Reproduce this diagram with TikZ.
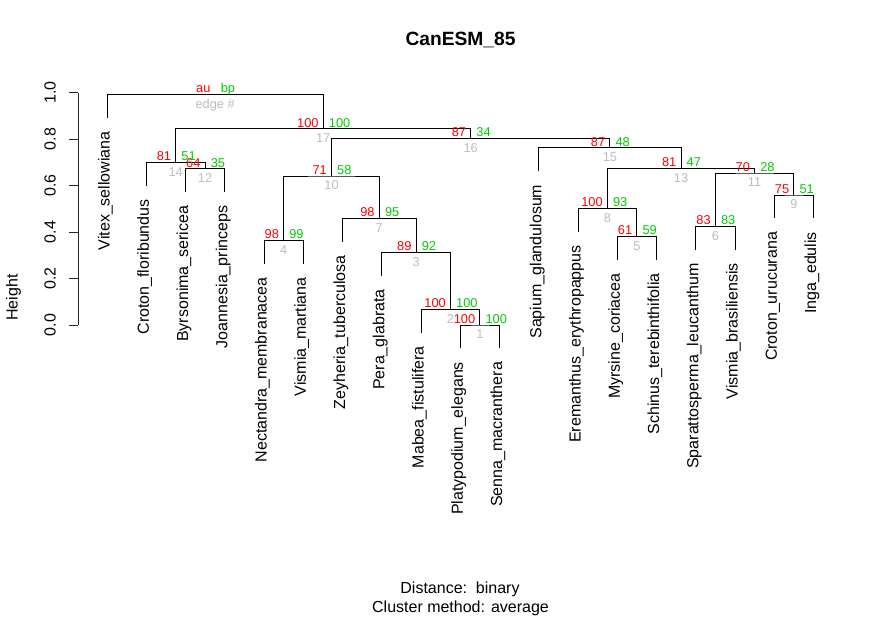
\documentclass[tikz,border=0pt]{standalone}
\usepackage{fontspec}
\setmainfont{Liberation Sans}
\definecolor{aured}{HTML}{FF0000}
\definecolor{bpgreen}{HTML}{00CD00}
\definecolor{edgegray}{HTML}{BEBEBE}
\tikzset{
  tree/.style={draw=black, line width=0.9pt},
  axisline/.style={draw=black!85, line width=0.9pt},
  leaflab/.style={rotate=90, anchor=mid east, inner sep=0pt, font=\fontsize{16}{19}\selectfont},
  ticklab/.style={rotate=90, anchor=base, inner sep=0pt, font=\fontsize{16}{19}\selectfont},
  aulab/.style={anchor=base east, inner sep=0pt, text=aured, font=\fontsize{12.8}{15}\selectfont},
  bplab/.style={anchor=base west, inner sep=0pt, text=bpgreen, font=\fontsize{12.8}{15}\selectfont},
  edlab/.style={anchor=base, inner sep=0pt, text=edgegray, font=\fontsize{12.8}{15}\selectfont},
}
\newcommand\pvlab[4]{%
  \node[aulab] (#1au) at ([shift={(-4.5,-1.5)}]#1) {#2};
  \node[bplab] (#1bp) at ([shift={(5.5,-1.5)}]#1) {#3};
  \node[edlab] (#1ed) at ([shift={(0,13.8)}]#1) {#4};}
\newcommand\leaflabel[2]{%
  \node[leaflab] (T#1) at ([shift={(0,13.5)}]L#1) {#2};}
\begin{document}
\begin{tikzpicture}[x=1pt,y=-1pt]
\useasboundingbox (0,0) rectangle (883,618);
\fill[white] (0,0) rectangle (883,618);
% leaf ends
\coordinate (L1) at (107,117.6);
\coordinate (L2) at (146.25,185.6);
\coordinate (L3) at (185.5,192);
\coordinate (L4) at (224.75,192);
\coordinate (L5) at (264,263.6);
\coordinate (L6) at (303.25,263.6);
\coordinate (L7) at (342.5,241.6);
\coordinate (L8) at (381.75,275.6);
\coordinate (L9) at (421,332.6);
\coordinate (L10) at (460.25,348.3);
\coordinate (L11) at (499.5,348.3);
\coordinate (L12) at (538.75,171);
\coordinate (L13) at (578,231.6);
\coordinate (L14) at (617.25,259.6);
\coordinate (L15) at (656.5,259.6);
\coordinate (L16) at (695.75,249.6);
\coordinate (L17) at (735,249.6);
\coordinate (L18) at (774.25,218.3);
\coordinate (L19) at (813.5,218.3);
% merge points
\coordinate (n1) at (479.875,325);
\coordinate (n2) at (450.44,309.3);
\coordinate (n3) at (416.1,252.3);
\coordinate (n4) at (283.6,240.3);
\coordinate (n5) at (636.9,236.3);
\coordinate (n6) at (715.4,226.3);
\coordinate (n7) at (379.3,218.3);
\coordinate (n8) at (607.4,208.3);
\coordinate (n9) at (793.9,195);
\coordinate (n10) at (331.5,176);
\coordinate (n11) at (754.6,173);
\coordinate (n12) at (205.1,168.7);
\coordinate (n13) at (681,168.3);
\coordinate (n14) at (175.7,162.3);
\coordinate (n15) at (609.9,147.7);
\coordinate (n16) at (470.7,138.3);
\coordinate (n17) at (323.2,128.7);
\coordinate (root) at (215.1,94.3);
% tree
\draw[tree] (L10) |- (n1) -| (L11);
\draw[tree] (L9) |- (n2) -| (n1);
\draw[tree] (L8) |- (n3) -| (n2);
\draw[tree] (L5) |- (n4) -| (L6);
\draw[tree] (L14) |- (n5) -| (L15);
\draw[tree] (L16) |- (n6) -| (L17);
\draw[tree] (L7) |- (n7) -| (n3);
\draw[tree] (L13) |- (n8) -| (n5);
\draw[tree] (L18) |- (n9) -| (L19);
\draw[tree] (n4) |- (n10) -| (n7);
\draw[tree] (n6) |- (n11) -| (n9);
\draw[tree] (L3) |- (n12) -| (L4);
\draw[tree] (n8) |- (n13) -| (n11);
\draw[tree] (L2) |- (n14) -| (n12);
\draw[tree] (L12) |- (n15) -| (n13);
\draw[tree] (n10) |- (n16) -| (n15);
\draw[tree] (n14) |- (n17) -| (n16);
\draw[tree] (L1) |- (root) -| (n17);
% leaf labels
\leaflabel{1}{Vitex\_sellowiana}
\leaflabel{2}{Croton\_floribundus}
\leaflabel{3}{Byrsonima\_sericea}
\leaflabel{4}{Joannesia\_princeps}
\leaflabel{5}{Nectandra\_membranacea}
\leaflabel{6}{Vismia\_martiana}
\leaflabel{7}{Zeyheria\_tuberculosa}
\leaflabel{8}{Pera\_glabrata}
\leaflabel{9}{Mabea\_fistulifera}
\leaflabel{10}{Platypodium\_elegans}
\leaflabel{11}{Senna\_macranthera}
\leaflabel{12}{Sapium\_glandulosum}
\leaflabel{13}{Eremanthus\_erythropappus}
\leaflabel{14}{Myrsine\_coriacea}
\leaflabel{15}{Schinus\_terebinthifolia}
\leaflabel{16}{Sparattosperma\_leucanthum}
\leaflabel{17}{Vismia\_brasiliensis}
\leaflabel{18}{Croton\_urucurana}
\leaflabel{19}{Inga\_edulis}
% p-values
\pvlab{n1}{100}{100}{1}
\pvlab{n2}{100}{100}{2}
\pvlab{n3}{89}{92}{3}
\pvlab{n4}{98}{99}{4}
\pvlab{n5}{61}{59}{5}
\pvlab{n6}{83}{83}{6}
\pvlab{n7}{98}{95}{7}
\pvlab{n8}{100}{93}{8}
\pvlab{n9}{75}{51}{9}
\pvlab{n10}{71}{58}{10}
\pvlab{n11}{70}{28}{11}
\pvlab{n12}{64}{35}{12}
\pvlab{n13}{81}{47}{13}
\pvlab{n14}{81}{51}{14}
\pvlab{n15}{87}{48}{15}
\pvlab{n16}{87}{34}{16}
\pvlab{n17}{100}{100}{17}
\pvlab{root}{au}{bp}{edge \#}
% axis
\coordinate (ax0) at (78,325);
\coordinate (ax1) at (78,92.7);
\draw[axisline] (ax0) -- (ax1);
\foreach \v/\t in {0/0.0,1/0.2,2/0.4,3/0.6,4/0.8,5/1.0}{
  \draw[axisline] (78,325-46.46*\v) -- (68.5,325-46.46*\v);
  \node[ticklab] (tick\v) at (55.5,325-46.46*\v) {\t};
}
\node[ticklab] (ylab) at (17.5,297.5) {Height};
% title and subtitle
\node[anchor=base, inner sep=0pt, font=\fontsize{19.2}{23}\selectfont\bfseries] (title) at (460.5,46) {CanESM\_85};
\node[anchor=base, inner sep=0pt, font=\fontsize{16}{19}\selectfont] (sub1) at (460,593.3) {Distance:\ \ binary};
\node[anchor=base, inner sep=0pt, font=\fontsize{16}{19}\selectfont] (sub2) at (460.5,612.3) {Cluster method: average};
\end{tikzpicture}
\end{document}
